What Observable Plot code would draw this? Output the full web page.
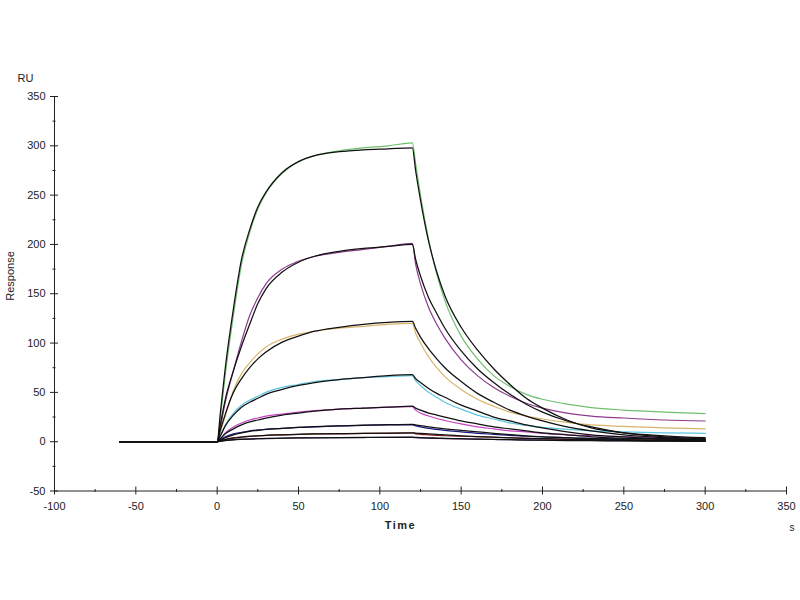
<!DOCTYPE html>
<html>
<head>
<meta charset="utf-8">
<script src="https://cdn.jsdelivr.net/npm/d3@7"></script>
<script src="https://cdn.jsdelivr.net/npm/@observablehq/plot@0.6"></script>
<style>
  body { margin: 0; background: #fff; }
  #myplot { width: 800px; height: 600px; }
</style>
</head>
<body>
<div id="myplot"></div>
<script>
// sample times (s), shared by every curve
const times = [-60, 0, 2, 5, 10, 15, 20, 25, 30, 40, 50, 60, 75, 90, 105, 120,
  122, 125, 130, 135, 140, 150, 160, 170, 180, 190, 200, 215, 230, 250, 275, 300];

const obsA = [0,0,25,68,128,180,212,236,252,272,284,290,295,298,300,303, 282,250,205,170,143, 107,84,67,56,48,43, 38,34.5,32,30,28.5];
const obsB = [0,0,15,40,72,102,128,146,160,175,183,188,192,195,198,201, 180,160,136,119,105, 83,67,55,46,39,34, 29,26,24,22,21];
const obsC = [0,0,10,26,52,69,80,89,96,104,109,112,115,117,119,120, 110,100,86,75,66, 53,43,36,30,26,23, 19.5,17,15.5,14,13];
const obsD = [0,0,6,17,29,37,42,46,50,55,58,61,63,65,66,67, 62,57,50,45,40, 33,27,23,19,16.5,14.5, 12.5,11,10,9,8.5];
const obsE = [0,0,3,9,15,19,22,24,26,28,30,31.5,33,34,35,35.5, 32,29,26,23.5,21.5, 18,15,13,11,10,8.5, 7,6,5,4.5,4];
const obsF = [0,0,2,5,8,9.5,11,12,12.5,13.5,14.5,15,16,16.5,17,17, 16,15,13.5,12.5,11.5, 10,8.5,7.5,6.5,5.5,5, 4,3.5,3,2.5,2];
const obsG = [0,0,1,2.5,4,5,5.5,6,6.5,7,7.5,8,8,8.5,8.5,8.8, 8,7.5,7,6.5,6, 5.5,5,4.5,4,3.5,3, 2.5,2,1.5,1.5,1];
const obsH = [0,0,0.5,1.2,2,2.5,2.8,3,3.3,3.5,3.8,4,4,4.2,4.3,4.4, 4,3.8,3.5,3.3,3.1, 2.8,2.5,2.2,2,1.8,1.6, 1.4,1.2,1,0.8,0.6];

// fitted curves (black)
const fitA = [0,0,30,75,135,185,215,238,253,273,284,290,294,296,297,298, 275,245,203,172,148, 116,93,74,58,44,34, 22,14,9,6,4];
const fitB = [0,0,18,43,72,97,119,140,155,172,182,188,193,196,198,200, 185,168,146,130,115, 92,74,60,48,38,30, 21,15,9,5,3];
const fitC = [0,0,12,28,50,64,75,84,91,101,107,112,116,119,121,122, 115,106,94,84,75, 61,49,40,32,26,21, 15,11,7,4,2];
const fitD = [0,0,6,16,27,35,40,44,48,53,57,60,63,65,67,68, 64,60,54,49,45, 37,31,25,21,17,14, 10,7,5,3,2];
const fitE = [0,0,3,8,13,17,20,22,24,27,29,31,33,34,35,36, 34,32,29,27,25, 21,18,15,13,11,9, 7,5,3.5,2.5,1.5];
const fitF = [0,0,1.5,4,7,9,10.5,11.5,12.5,13.5,14.5,15.2,16,16.7,17.2,17.5, 17,16.3,15,14,13, 11.5,10,8.5,7.2,6,5, 4,3,2,1.5,1];
const fitG = [0,0,0.8,2,3.5,4.5,5.3,6,6.5,7,7.5,7.8,8.2,8.5,8.8,9, 8.7,8.4,7.8,7.3,6.8, 6,5.2,4.5,3.9,3.4,3, 2.4,2,1.5,1,0.7];
const fitH = [0,0,0.4,1,1.8,2.3,2.7,3,3.2,3.5,3.8,3.9,4.1,4.3,4.4,4.5, 4.4,4.2,3.9,3.7,3.4, 3,2.6,2.3,2,1.7,1.5, 1.2,1,0.8,0.5,0.4];

const names = ["A", "B", "C", "D", "E", "F", "G", "H"];
const colors = ["#6fbf6f", "#8e3b8e", "#d8b46a", "#5cc4e0", "#c245c2", "#1c1c86", "#8a1f1f", "#4a1a68"];

const xMajor = [-100, -50, 0, 50, 100, 150, 200, 250, 300, 350];
const xMinor = [-75, -25, 25, 75, 125, 175, 225, 275, 325];
const yMajor = [-50, 0, 50, 100, 150, 200, 250, 300, 350];
const yMinor = [-25, 25, 75, 125, 175, 225, 275, 325];

const toRows = (list) =>
  list.flatMap((vals, k) => times.map((t, i) => ({ t, v: vals[i], s: names[k] })));
const obs = toRows([obsA, obsB, obsC, obsD, obsE, obsF, obsG, obsH]);
const fit = toRows([fitA, fitB, fitC, fitD, fitE, fitF, fitG, fitH]);

const div = document.querySelector("#myplot");
const plain = (d) => String(d); // hyphen, not the unicode minus

const plot = Plot.plot({
  width: 800,
  height: 600,
  marginTop: 96,
  marginBottom: 109.5,
  marginLeft: 54,
  marginRight: 14,
  style: { fontFamily: "Liberation Sans, Arial, sans-serif", fontSize: "11px", color: "#222", background: "#fff" },
  x: { domain: [-100, 350] },
  y: { domain: [-50, 350] },
  color: { domain: names, range: colors },
  marks: [
    Plot.ruleX([-100], { stroke: "#222" }),
    Plot.ruleY([-50], { stroke: "#222" }),
    Plot.axisY({ ticks: yMajor, tickSize: 8, dx: 4, text: null, label: null }),
    Plot.axisY({ ticks: yMinor, tickSize: 3, dx: 1.5, text: null, label: null }),
    Plot.axisY({ ticks: yMajor, tickSize: 0, tickPadding: 9, tickFormat: plain, label: null }),
    Plot.axisX({ ticks: xMajor, tickSize: 8, dy: -4, text: null, label: null }),
    Plot.axisX({ ticks: xMinor, tickSize: 3, dy: -1.5, text: null, label: null }),
    Plot.axisX({ ticks: xMajor, tickSize: 0, tickPadding: 11, tickFormat: plain, label: null }),
    Plot.line(obs, { x: "t", y: "v", z: "s", stroke: "s", strokeWidth: 1.2, curve: "monotone-x" }),
    Plot.line(fit, { x: "t", y: "v", z: "s", stroke: "#111", strokeWidth: 1.25, curve: "monotone-x" }),
    Plot.text(["RU"], { text: (d) => d, frameAnchor: "top-left", dx: -37, dy: -22 }),
    Plot.text(["Response"], { text: (d) => d, frameAnchor: "left", rotate: -90, dx: -44, dy: 7 }),
    Plot.text(["Time"], { text: (d) => d, frameAnchor: "bottom", dx: -20, dy: 38, fontWeight: "bold" }),
    Plot.text(["s"], { text: (d) => d, frameAnchor: "bottom-right", dx: 8, dy: 40, fontSize: 10 }),
  ],
});

for (const t of plot.querySelectorAll("text")) {
  if (t.textContent === "Time") t.setAttribute("letter-spacing", "1.5");
}

div.append(plot);
</script>
</body>
</html>
